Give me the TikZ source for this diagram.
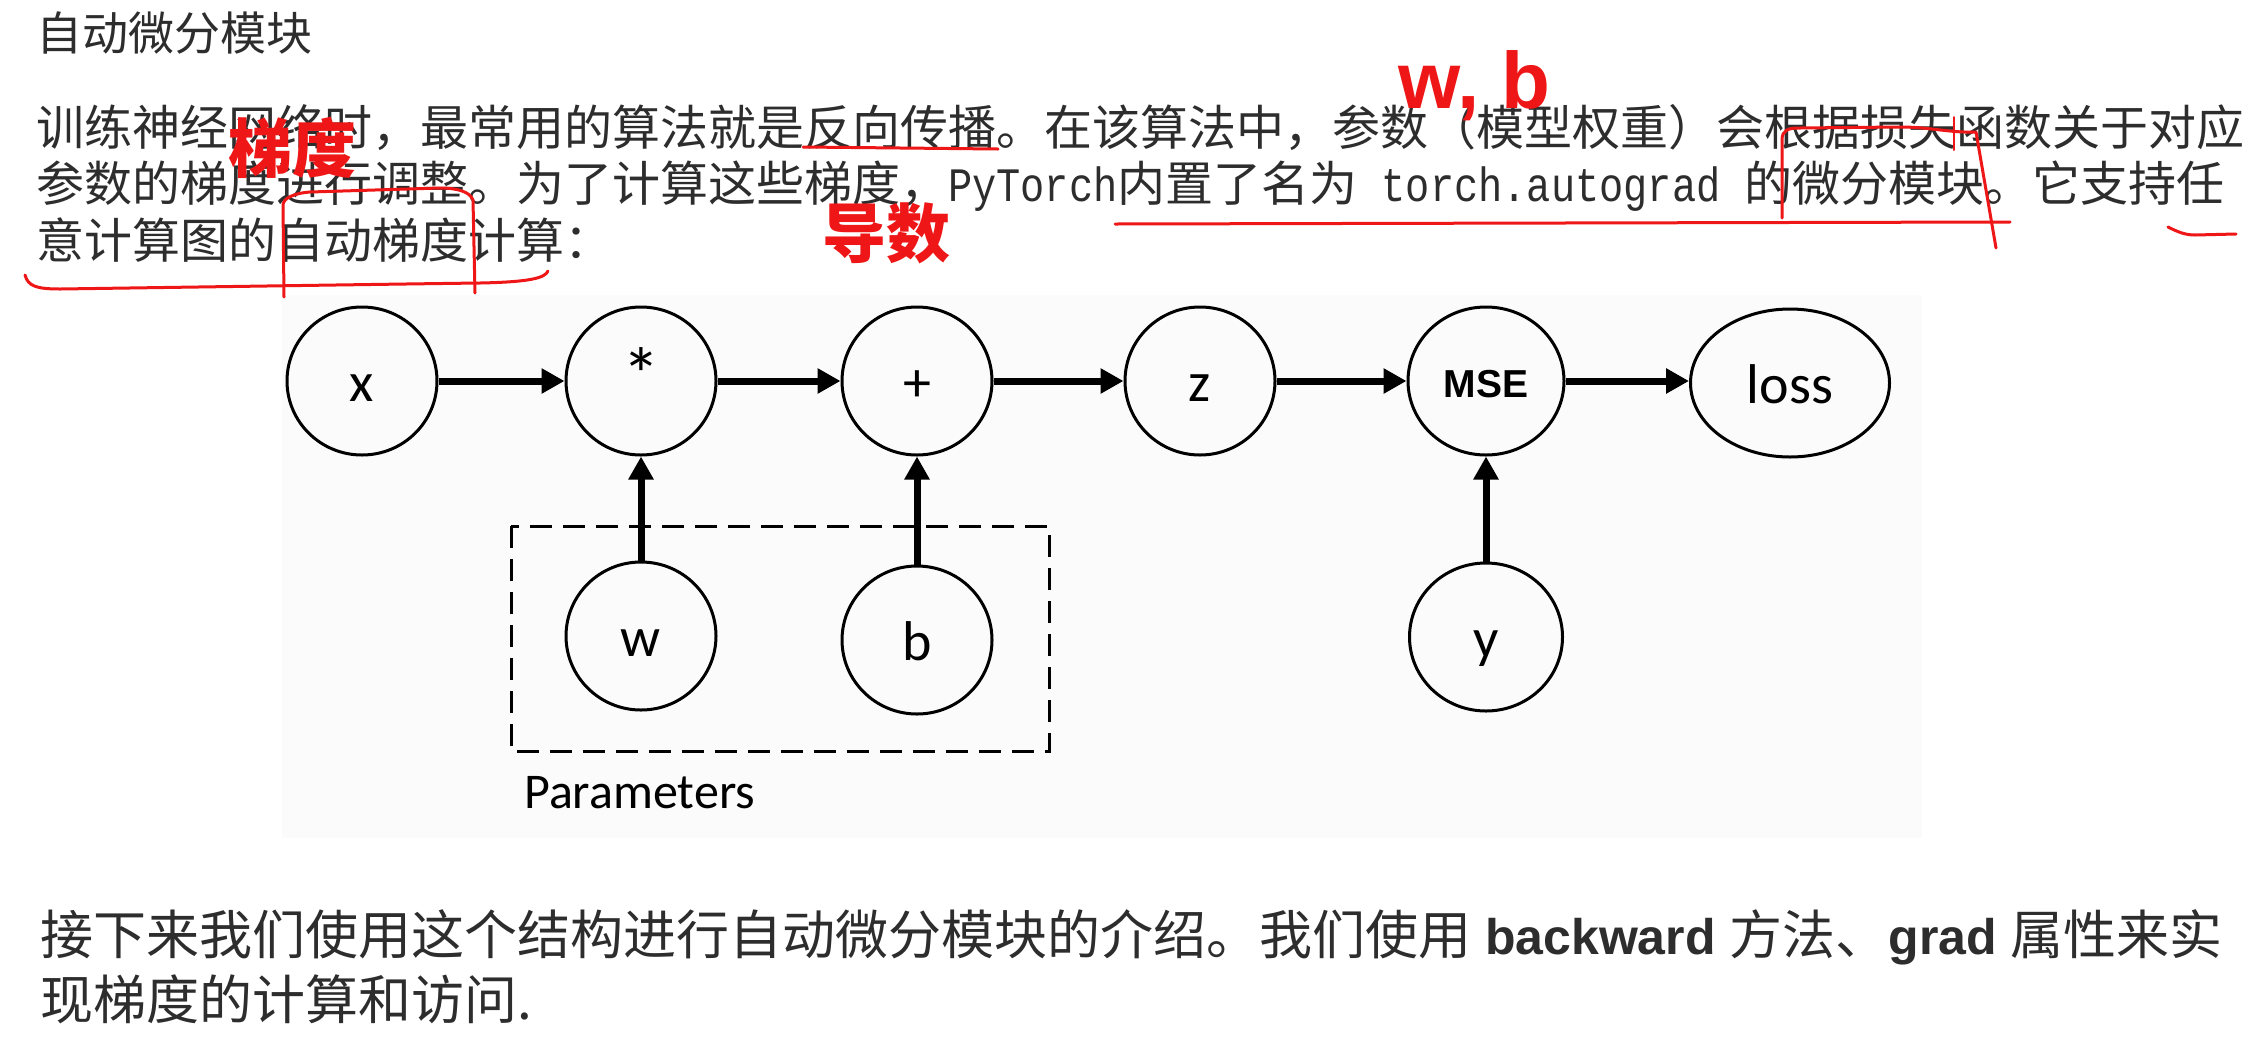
\documentclass[tikz,border=0pt]{standalone}
\usepackage{fontspec}
\setmainfont{Noto Sans CJK SC}
\newfontfamily\cjk{Noto Sans CJK SC}
\newfontfamily\lsans{Liberation Sans}
\newfontfamily\lmono{Liberation Mono}[FakeStretch=0.84]
\newfontfamily\carl{Carlito}
\usetikzlibrary{arrows.meta,shapes.geometric}
\definecolor{annred}{RGB}{238,22,22}
\definecolor{txtgray}{RGB}{45,45,45}
\definecolor{figbg}{RGB}{251,251,251}
\newcommand{\fs}[1]{\fontsize{#1pt}{#1pt}\selectfont}
\begin{document}
\begin{tikzpicture}[x=1pt,y=-1pt,
  gnode/.style={ellipse,draw,line width=3pt,inner sep=0pt,minimum width=150pt,minimum height=148pt,
    font=\carl\fs{56},text height=50pt,text depth=10pt},
  arr/.style={line width=7pt,-{Triangle[length=23pt,width=24pt]}},
  redline/.style={draw=annred,line width=3pt,line cap=round,line join=round},
  body/.style={anchor=base west,inner sep=0pt,text=txtgray,font=\cjk\fs{48}},
  bottomtxt/.style={anchor=base west,inner sep=0pt,text=txtgray,font=\cjk\fs{53}},
  redtxt/.style={anchor=base west,inner sep=0pt,text=annred}
]
\useasboundingbox (0,0) rectangle (2249,1037);
\fill[white] (0,0) rectangle (2249,1037);
% figure background
\fill[figbg] (282,295) rectangle (1922,838);

% ---- text ----
\node[body,font=\cjk\fs{46}] (title) at (36,50) {自动微分模块};
\node[body] (l1) at (36,145) {训练神经网络时，最常用的算法就是反向传播。在该算法中，参数（模型权重）会根据损失函数关于对应};
\node[body] (l2) at (36,201) {参数的梯度进行调整。为了计算这些梯度，{\lmono\fs{48}PyTorch}内置了名为{\lmono\fs{48}\ torch.autograd\ }的微分模块。它支持任};
\node[body] (l3) at (36,258) {意计算图的自动梯度计算：};

\node[bottomtxt] (b1) at (40,954) {接下来我们使用这个结构进行自动微分模块的介绍。我们使用{\lsans\bfseries\fs{50}\ backward\ }方法、{\lsans\bfseries\fs{50}grad\ }属性来实};
\node[bottomtxt] (b2) at (40,1019) {现梯度的计算和访问.};

% ---- graph ----
\draw[line width=3pt,dash pattern=on 22pt off 11pt] (511,526) rectangle (1049,751);
\node[anchor=base west,inner sep=0pt,font=\carl\fs{50}] (params) at (524,808) {Parameters};

\node[gnode] (x) at (362,381) {x};
\node[gnode,font=\carl\fs{76}] (mul) at (641,381) {*};
\node[gnode] (add) at (917,381) {+};
\node[gnode] (z) at (1200,381) {z};
\node[gnode,minimum width=156pt,font=\lsans\bfseries\fs{39},text height=42pt,text depth=10pt] (mse) at (1486,381) {MSE};
\node[gnode,minimum width=199pt,minimum height=148pt] (loss) at (1790,383) {loss};
\node[gnode] (w) at (641,636) {w};
\node[gnode] (b) at (917,640) {b};
\node[gnode,minimum width=153pt] (y) at (1486,637) {y};

\draw[arr] (x) -- (mul);
\draw[arr] (mul) -- (add);
\draw[arr] (add) -- (z);
\draw[arr] (z) -- (mse);
\draw[arr] (mse.east) -- (loss.west |- mse.east);
\draw[arr] (w) -- (mul);
\draw[arr] (b) -- (add);
\draw[arr] (y) -- (mse);

% ---- red annotations ----
\node[redtxt,font=\cjk\bfseries\fs{64}] (ann1) at (228,172) {梯度};
\node[redtxt,font=\cjk\bfseries\fs{64}] (ann2) at (822,257) {导数};
\node[redtxt,font=\lsans\bfseries\fs{80}] (ann3) at (1398,108) {w, b};

\draw[redline] (803,147) -- (998,149);
\draw[redline] (1115,224) -- (2010,222);
\draw[redline] (1782,218) -- (1782,140) .. controls (1782,130) and (1788,128) .. (1800,128)
   -- (1900,127) .. controls (1930,127) and (1950,133) .. (1976,132) -- (1996,248);
\draw[redline,line width=2pt] (1954,117) -- (1954,150);
\draw[redline] (2168,227) .. controls (2178,232) and (2185,235) .. (2195,235) -- (2236,234);
\draw[redline] (25,275) .. controls (28,286) and (36,289) .. (60,289)
   .. controls (200,287) and (400,284) .. (480,283) .. controls (530,282) and (545,278) .. (548,271);
\draw[redline] (284,297) -- (283,205) .. controls (283,198) and (295,193) .. (310,192)
   -- (440,188) .. controls (458,188) and (470,192) .. (473,200) -- (475,293);
\end{tikzpicture}
\end{document}
